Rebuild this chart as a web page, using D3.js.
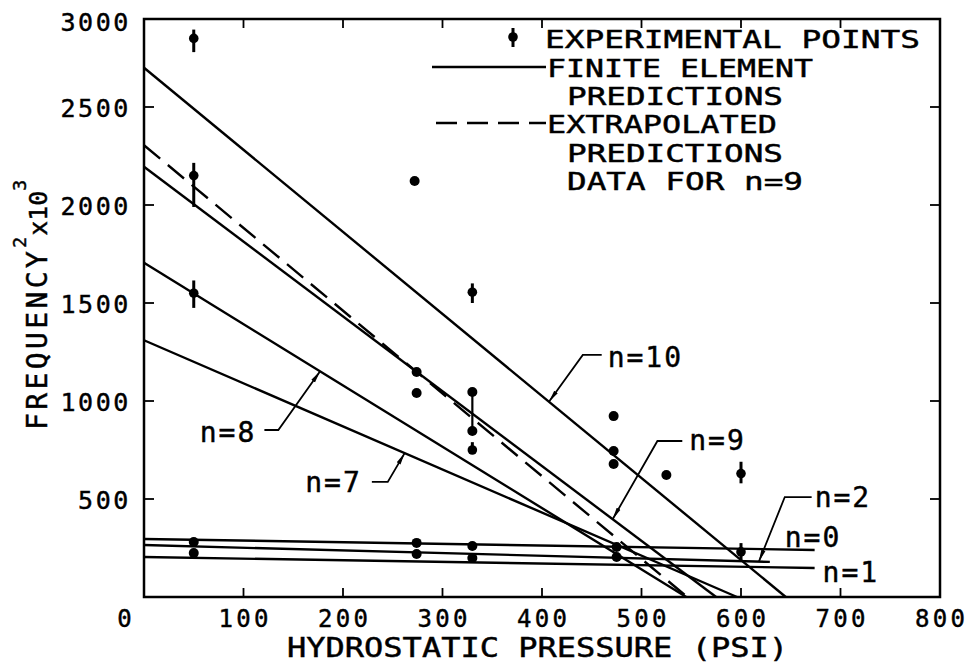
<!DOCTYPE html>
<html>
<head>
<meta charset="utf-8">
<script src="https://cdn.jsdelivr.net/npm/d3@7"></script>
<style>
    body { margin: 0; background: #fff; }
    text { font-family: "DejaVu Sans Mono", monospace; fill: #000; stroke: #000; stroke-width: 0.45; }
</style>
</head>
<body>
<div id="chart"></div>
<script>
/*
    Frequency^2 vs hydrostatic pressure, finite element lines + experimental points
*/

const width = 973;
const height = 666;

// finite element prediction lines: value at 0 psi, end point (psi, freq^2 x 10^3)
const lineNames = ["n=10", "n=9", "n=8", "n=7", "n=0", "n=2", "n=1"];
const lineStart = [2700, 2195, 1705, 1310, 296, 265, 204];
const lineEndX  = [645, 575, 545, 596, 674, 629, 674];
const lineEndY  = [0, 0, 0, 0, 240, 179, 148];

// extrapolated predictions, n=9
const dashStart = [0, 2305];
const dashEnd   = [546, 0];

// experimental points with error bars
const errX  = [50, 50, 50, 330, 330, 600, 600];
const errY  = [2850, 2150, 1550, 1555, 750, 630, 230];
const errLo = [2780, 1990, 1475, 1500, 750, 580, 180];
const errHi = [2895, 2215, 1615, 1600, 790, 690, 275];

// experimental points without bars
const dotX = [50, 50, 272, 274, 274, 274, 274, 330, 330, 330, 330, 472, 472, 472, 525, 475, 475];
const dotY = [281, 224, 2122, 1148, 1041, 276, 219, 1046, 847, 260, 199, 923, 745, 679, 622, 255, 204];

// range bar joining two points at 330 psi
const rangeX = 330;
const rangeY = [847, 1046];

// axis ticks
const xTicks = [0, 100, 200, 300, 400, 500, 600, 700, 800];
const yTicks = [500, 1000, 1500, 2000, 2500, 3000];

// leader labels: text pos, horizontal start, elbow, target psi on line
const annNames  = ["n=10", "n=9", "n=8", "n=7", "n=2"];
const annText   = [[466, 1175], [548, 750], [56, 791], [162, 536], [674, 459]];
const annHx     = [460, 541, 121, 229, 671];
const annElbow  = [[441, 1235], [516, 796], [135, 852], [245, 587], [644, 510]];
const annTarget = [407, 471, 177, 262, 618];

// plain labels next to line ends
const plainNames = ["n=0", "n=1"];
const plainPos   = [[644, 255], [682, 77]];

const legendLabels = ["EXPERIMENTAL POINTS", "FINITE ELEMENT", "PREDICTIONS",
                      "EXTRAPOLATED", "PREDICTIONS", "DATA FOR n=9"];

const svg = d3.select("#chart")
    .append("svg")
    .attr("width", width)
    .attr("height", height);

const xScale = d3.scaleLinear().domain([0, 800]).range([144, 940]);
const yScale = d3.scaleLinear().domain([0, 3000]).range([597, 9]);
const frameTop = 19;

const ink = "#000";

// arrow head for leaders
svg.append("defs").append("marker")
    .attr("id", "arrow")
    .attr("viewBox", "0 0 12 6")
    .attr("refX", 12).attr("refY", 3)
    .attr("markerWidth", 12).attr("markerHeight", 6)
    .attr("markerUnits", "userSpaceOnUse")
    .attr("orient", "auto")
    .append("path")
    .attr("d", "M0,0.8 L12,3 L0,5.2 Z")
    .attr("fill", ink);

/* frame */
const x0 = xScale(0), x1 = xScale(800), y0 = yScale(0);
svg.append("rect")
    .attr("x", x0).attr("y", frameTop)
    .attr("width", x1 - x0).attr("height", y0 - frameTop)
    .attr("fill", "none").attr("stroke", ink).attr("stroke-width", 2.5);

/* ticks, inward on all sides */
const inner = xTicks.filter(d => d > 0 && d < 800);
svg.selectAll(".xtb").data(inner).enter().append("line")
    .attr("x1", d => xScale(d)).attr("x2", d => xScale(d))
    .attr("y1", y0).attr("y2", y0 - 9)
    .attr("stroke", ink).attr("stroke-width", 1.8);
svg.selectAll(".xtt").data(inner).enter().append("line")
    .attr("x1", d => xScale(d)).attr("x2", d => xScale(d))
    .attr("y1", frameTop).attr("y2", frameTop + 9)
    .attr("stroke", ink).attr("stroke-width", 1.8);

const yInner = yTicks.filter(d => d < 3000);
svg.selectAll(".ytl").data(yInner).enter().append("line")
    .attr("x1", x0).attr("x2", x0 + 10)
    .attr("y1", d => yScale(d)).attr("y2", d => yScale(d))
    .attr("stroke", ink).attr("stroke-width", 1.8);
svg.selectAll(".ytr").data(yInner).enter().append("line")
    .attr("x1", x1).attr("x2", x1 - 10)
    .attr("y1", d => yScale(d)).attr("y2", d => yScale(d))
    .attr("stroke", ink).attr("stroke-width", 1.8);

/* tick labels */
svg.selectAll(".xl").data(xTicks).enter().append("text")
    .attr("x", d => d === 0 ? xScale(d) - 18 : xScale(d) + 1.6)
    .attr("y", 627)
    .attr("text-anchor", "middle")
    .attr("font-size", 24)
    .attr("letter-spacing", 3.2)
    .text(d => d);

svg.selectAll(".yl").data(yTicks).enter().append("text")
    .attr("x", 131)
    .attr("y", d => d === 3000 ? frameTop + 12 : yScale(d) + 9.5)
    .attr("text-anchor", "end")
    .attr("font-size", 25)
    .attr("letter-spacing", 2.6)
    .text(d => d);

/* axis titles */
svg.append("text")
    .attr("x", 287).attr("y", 657)
    .attr("font-size", 26)
    .attr("textLength", 501)
    .attr("lengthAdjust", "spacingAndGlyphs")
    .text("HYDROSTATIC PRESSURE (PSI)");

const yTitle = svg.append("text")
    .attr("transform", "translate(47,430) rotate(-90)")
    .attr("font-size", 28)
    .attr("letter-spacing", 3.4);
yTitle.append("tspan").text("FREQUENCY");
yTitle.append("tspan").attr("font-size", 18).attr("dy", -21).attr("letter-spacing", 1).text("2");
yTitle.append("tspan").attr("font-size", 25).attr("dy", 21).attr("letter-spacing", 0).text("x10");
yTitle.append("tspan").attr("font-size", 18).attr("dy", -21).text("3");

/* prediction lines */
function lineValue(i, p) {
    return lineStart[i] + (lineEndY[i] - lineStart[i]) * p / lineEndX[i];
}

svg.selectAll(".fe").data(lineNames).enter().append("line")
    .attr("x1", xScale(0))
    .attr("y1", (d, i) => yScale(lineStart[i]))
    .attr("x2", (d, i) => xScale(lineEndX[i]))
    .attr("y2", (d, i) => yScale(lineEndY[i]))
    .attr("stroke", ink).attr("stroke-width", 2.4);

svg.append("line")
    .attr("x1", xScale(dashStart[0])).attr("y1", yScale(dashStart[1]))
    .attr("x2", xScale(dashEnd[0])).attr("y2", yScale(dashEnd[1]))
    .attr("stroke", ink).attr("stroke-width", 2.4)
    .attr("stroke-dasharray", "21,10");

/* experimental points */
svg.append("line")
    .attr("x1", xScale(rangeX)).attr("x2", xScale(rangeX))
    .attr("y1", yScale(rangeY[0])).attr("y2", yScale(rangeY[1]))
    .attr("stroke", ink).attr("stroke-width", 2.2);

svg.selectAll(".eb").data(errX).enter().append("line")
    .attr("x1", d => xScale(d)).attr("x2", d => xScale(d))
    .attr("y1", (d, i) => yScale(errLo[i]))
    .attr("y2", (d, i) => yScale(errHi[i]))
    .attr("stroke", ink).attr("stroke-width", 3);

svg.selectAll(".ep").data(errX).enter().append("circle")
    .attr("cx", d => xScale(d))
    .attr("cy", (d, i) => yScale(errY[i]))
    .attr("r", 4.8)
    .attr("fill", ink);

svg.selectAll(".dp").data(dotX).enter().append("circle")
    .attr("cx", d => xScale(d))
    .attr("cy", (d, i) => yScale(dotY[i]))
    .attr("r", 5)
    .attr("fill", ink);

/* leader labels */
annNames.forEach(function(name, k) {
    const li = lineNames.indexOf(name);
    const tx = annTarget[k];
    const pts = [
        [xScale(annHx[k]), yScale(annElbow[k][1])],
        [xScale(annElbow[k][0]), yScale(annElbow[k][1])],
        [xScale(tx), yScale(lineValue(li, tx))]
    ];
    svg.append("path")
        .attr("d", d3.line()(pts))
        .attr("fill", "none")
        .attr("stroke", ink).attr("stroke-width", 1.8)
        .attr("marker-end", "url(#arrow)");
    svg.append("text")
        .attr("x", xScale(annText[k][0]))
        .attr("y", yScale(annText[k][1]))
        .attr("font-size", 28)
        .attr("letter-spacing", 2)
        .text(name);
});

plainNames.forEach(function(name, k) {
    svg.append("text")
        .attr("x", xScale(plainPos[k][0]))
        .attr("y", yScale(plainPos[k][1]))
        .attr("font-size", 28)
        .attr("letter-spacing", 2)
        .text(name);
});

/* legend: stacked rows, glyphs stretched to the row widths */
const legX = [545, 547, 567, 547, 567, 567];
const legY = [48, 77, 105, 133, 162, 190];
const legW = [375, 266, 216, 230, 216, 236];
svg.selectAll(".leg").data(legendLabels).enter().append("text")
    .attr("x", (d, i) => legX[i])
    .attr("y", (d, i) => legY[i])
    .attr("font-size", 24)
    .attr("textLength", (d, i) => legW[i])
    .attr("lengthAdjust", "spacingAndGlyphs")
    .text(d => d);

svg.append("line")
    .attr("x1", 513).attr("x2", 513).attr("y1", 28).attr("y2", 47)
    .attr("stroke", ink).attr("stroke-width", 3);
svg.append("circle").attr("cx", 513).attr("cy", 37).attr("r", 4.8).attr("fill", ink);

svg.append("line")
    .attr("x1", 432).attr("x2", 546).attr("y1", 67).attr("y2", 67)
    .attr("stroke", ink).attr("stroke-width", 2.4);
svg.append("line")
    .attr("x1", 436).attr("x2", 546).attr("y1", 123).attr("y2", 123)
    .attr("stroke", ink).attr("stroke-width", 2.4)
    .attr("stroke-dasharray", "21,10");
</script>
</body>
</html>
